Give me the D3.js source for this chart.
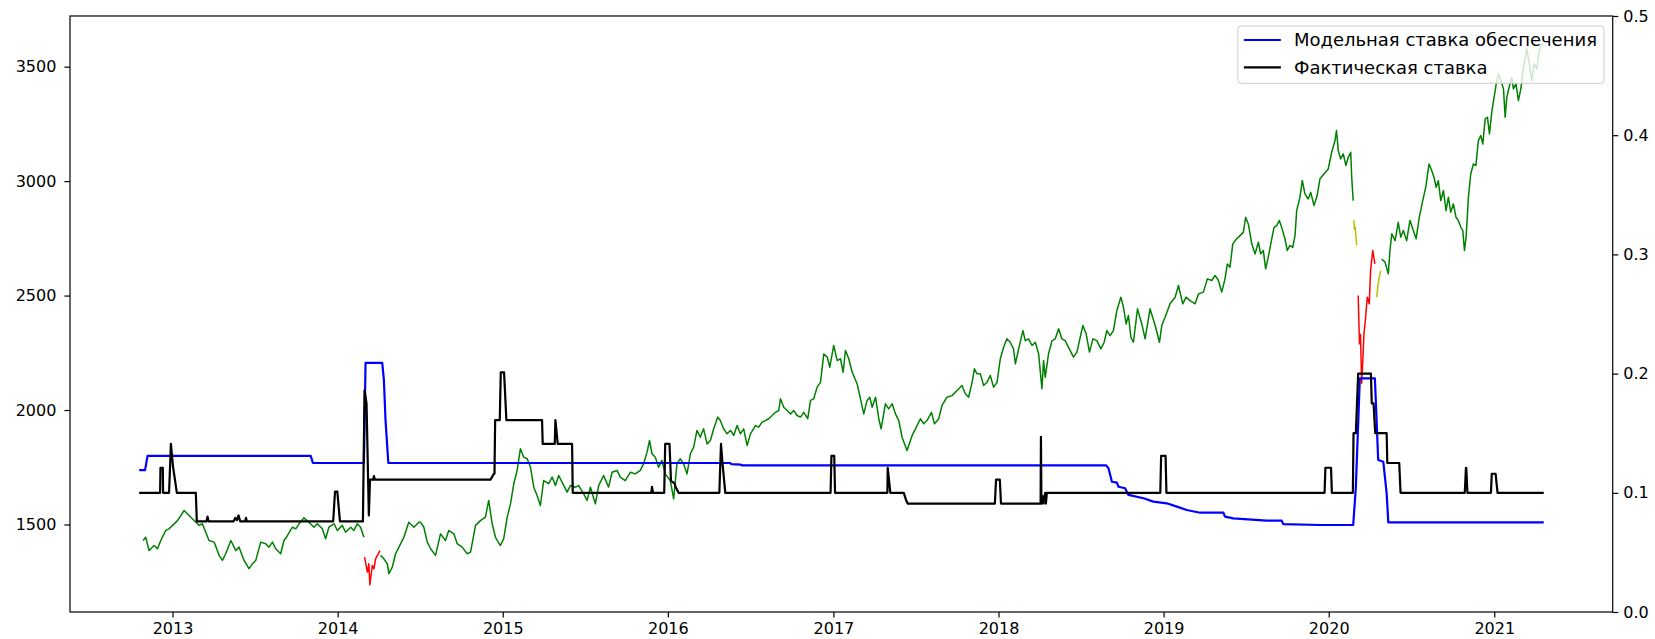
<!DOCTYPE html>
<html>
<head>
<meta charset="utf-8">
<script src="https://cdn.jsdelivr.net/npm/d3@7"></script>
<style>
  html, body { margin: 0; padding: 0; background: #fff; }
  svg { display: block; }
  text { font-family: "DejaVu Sans", sans-serif; fill: #000; }
</style>
</head>
<body>
<svg id="chart" width="1655" height="639"></svg>
<script>
// ---- Index level (left axis), decimal year + value, split by regime ----
const indexGreenA = [[2012.822,1430],[2012.838,1444],[2012.858,1386],[2012.889,1408],[2012.909,1394],[2012.929,1430],[2012.959,1474],[2012.979,1481],[2013.000,1496],[2013.030,1517],[2013.070,1561],[2013.100,1539],[2013.131,1517],[2013.161,1496],[2013.181,1503],[2013.201,1466],[2013.221,1430],[2013.252,1423],[2013.282,1365],[2013.302,1343],[2013.322,1372],[2013.353,1430],[2013.383,1386],[2013.403,1401],[2013.433,1343],[2013.463,1307],[2013.484,1328],[2013.504,1343],[2013.534,1423],[2013.564,1416],[2013.584,1401],[2013.605,1423],[2013.625,1394],[2013.655,1372],[2013.675,1430],[2013.696,1452],[2013.726,1488],[2013.746,1481],[2013.766,1503],[2013.796,1529],[2013.826,1510],[2013.857,1488],[2013.877,1503],[2013.907,1481],[2013.927,1438],[2013.947,1488],[2013.978,1503],[2013.998,1474],[2014.028,1496],[2014.048,1466],[2014.079,1488],[2014.099,1474],[2014.119,1503],[2014.139,1488],[2014.159,1444]];
const indexRedA = [[2014.163,1357],[2014.180,1292],[2014.189,1328],[2014.195,1236],[2014.210,1321],[2014.220,1306],[2014.230,1350],[2014.240,1364],[2014.256,1386]];
const indexGreenB = [[2014.260,1365],[2014.280,1350],[2014.301,1328],[2014.310,1285],[2014.331,1314],[2014.351,1372],[2014.371,1401],[2014.401,1444],[2014.431,1510],[2014.462,1488],[2014.492,1510],[2014.502,1510],[2014.522,1488],[2014.543,1423],[2014.563,1394],[2014.593,1365],[2014.623,1459],[2014.653,1430],[2014.673,1474],[2014.704,1459],[2014.724,1416],[2014.754,1401],[2014.785,1372],[2014.805,1379],[2014.835,1496],[2014.865,1517],[2014.895,1532],[2014.915,1605],[2014.936,1503],[2014.956,1444],[2014.986,1408],[2015.006,1438],[2015.027,1532],[2015.047,1590],[2015.067,1678],[2015.087,1736],[2015.107,1831],[2015.127,1794],[2015.148,1787],[2015.168,1750],[2015.188,1663],[2015.208,1627],[2015.228,1583],[2015.248,1692],[2015.278,1678],[2015.299,1707],[2015.319,1670],[2015.339,1714],[2015.359,1685],[2015.390,1641],[2015.410,1670],[2015.440,1663],[2015.460,1670],[2015.490,1634],[2015.511,1605],[2015.531,1663],[2015.561,1590],[2015.581,1670],[2015.611,1714],[2015.641,1663],[2015.662,1728],[2015.692,1736],[2015.712,1707],[2015.742,1692],[2015.773,1728],[2015.803,1721],[2015.833,1736],[2015.853,1765],[2015.874,1816],[2015.889,1867],[2015.904,1809],[2015.924,1794],[2015.944,1750],[2015.964,1780],[2015.984,1721],[2016.015,1692],[2016.035,1612],[2016.055,1765],[2016.075,1787],[2016.095,1765],[2016.116,1721],[2016.136,1809],[2016.156,1838],[2016.176,1911],[2016.196,1881],[2016.216,1918],[2016.237,1852],[2016.257,1867],[2016.277,1918],[2016.301,1969],[2016.317,1954],[2016.337,1918],[2016.358,1896],[2016.378,1911],[2016.398,1889],[2016.418,1932],[2016.438,1896],[2016.458,1918],[2016.479,1845],[2016.499,1896],[2016.529,1932],[2016.549,1925],[2016.569,1947],[2016.589,1954],[2016.609,1962],[2016.630,1976],[2016.650,1990],[2016.670,1998],[2016.680,2049],[2016.700,2012],[2016.721,1998],[2016.741,1983],[2016.760,1998],[2016.781,1976],[2016.801,1969],[2016.821,1990],[2016.845,1962],[2016.862,2042],[2016.881,2049],[2016.902,2100],[2016.922,2121],[2016.942,2245],[2016.963,2231],[2016.978,2187],[2017.002,2282],[2017.023,2216],[2017.043,2224],[2017.059,2165],[2017.073,2260],[2017.093,2224],[2017.114,2165],[2017.144,2114],[2017.164,2049],[2017.184,1983],[2017.204,2042],[2017.220,2056],[2017.235,2012],[2017.255,2056],[2017.275,1962],[2017.289,1918],[2017.315,2027],[2017.335,2005],[2017.356,2027],[2017.376,1983],[2017.396,1954],[2017.416,1881],[2017.446,1823],[2017.477,1889],[2017.497,1918],[2017.527,1962],[2017.547,1940],[2017.567,1954],[2017.594,1990],[2017.612,1940],[2017.638,1962],[2017.658,2020],[2017.688,2056],[2017.719,2063],[2017.749,2085],[2017.779,2107],[2017.799,2071],[2017.819,2056],[2017.840,2121],[2017.854,2180],[2017.870,2158],[2017.890,2158],[2017.910,2107],[2017.930,2121],[2017.950,2151],[2017.970,2100],[2017.991,2121],[2018.011,2224],[2018.031,2274],[2018.051,2311],[2018.071,2296],[2018.091,2267],[2018.102,2202],[2018.122,2267],[2018.148,2347],[2018.162,2303],[2018.182,2311],[2018.203,2282],[2018.223,2296],[2018.243,2245],[2018.263,2093],[2018.273,2216],[2018.283,2143],[2018.303,2245],[2018.324,2303],[2018.344,2311],[2018.364,2355],[2018.384,2311],[2018.404,2303],[2018.424,2274],[2018.454,2231],[2018.475,2253],[2018.495,2318],[2018.511,2369],[2018.531,2333],[2018.551,2253],[2018.572,2311],[2018.596,2303],[2018.620,2267],[2018.640,2296],[2018.656,2347],[2018.676,2325],[2018.696,2347],[2018.717,2435],[2018.741,2493],[2018.757,2449],[2018.773,2376],[2018.787,2413],[2018.802,2318],[2018.817,2296],[2018.842,2442],[2018.868,2376],[2018.888,2311],[2018.918,2442],[2018.949,2369],[2018.975,2296],[2018.989,2369],[2019.009,2405],[2019.039,2464],[2019.070,2493],[2019.090,2544],[2019.116,2464],[2019.136,2493],[2019.160,2478],[2019.191,2464],[2019.211,2507],[2019.241,2515],[2019.265,2573],[2019.292,2566],[2019.312,2588],[2019.332,2566],[2019.352,2515],[2019.372,2573],[2019.386,2638],[2019.402,2624],[2019.419,2726],[2019.443,2748],[2019.463,2762],[2019.483,2776],[2019.497,2842],[2019.513,2813],[2019.534,2726],[2019.554,2682],[2019.574,2733],[2019.588,2682],[2019.604,2697],[2019.618,2617],[2019.634,2668],[2019.655,2748],[2019.669,2798],[2019.685,2806],[2019.701,2828],[2019.715,2798],[2019.735,2748],[2019.749,2697],[2019.765,2719],[2019.782,2711],[2019.796,2762],[2019.806,2871],[2019.826,2930],[2019.840,3003],[2019.856,2944],[2019.876,2922],[2019.891,2951],[2019.911,2893],[2019.930,2937],[2019.947,3010],[2019.971,3031],[2019.997,3053],[2020.018,3126],[2020.038,3177],[2020.047,3221],[2020.058,3133],[2020.072,3097],[2020.088,3119],[2020.104,3068],[2020.118,3104],[2020.133,3126],[2020.139,3017],[2020.148,2915]];
const indexYellowA = [[2020.152,2830],[2020.155,2790],[2020.160,2800],[2020.169,2719]];
const indexRedB = [[2020.178,2500],[2020.186,2289],[2020.192,2330],[2020.199,2117],[2020.205,2200],[2020.213,2333],[2020.223,2405],[2020.233,2493],[2020.245,2464],[2020.253,2609],[2020.266,2697],[2020.279,2638]];
const indexYellowB = [[2020.290,2493],[2020.299,2551],[2020.310,2595],[2020.314,2609]];
const indexGreenC = [[2020.320,2660],[2020.340,2646],[2020.360,2595],[2020.370,2697],[2020.381,2770],[2020.401,2740],[2020.420,2820],[2020.435,2755],[2020.451,2784],[2020.471,2740],[2020.491,2828],[2020.511,2784],[2020.528,2748],[2020.547,2842],[2020.568,2915],[2020.586,2973],[2020.606,3075],[2020.622,3046],[2020.636,3017],[2020.649,2973],[2020.662,3002],[2020.677,2915],[2020.693,2959],[2020.709,2871],[2020.723,2930],[2020.737,2864],[2020.753,2900],[2020.769,2842],[2020.783,2828],[2020.798,2798],[2020.810,2784],[2020.820,2697],[2020.830,2755],[2020.844,2930],[2020.858,3031],[2020.874,3075],[2020.889,3068],[2020.904,3177],[2020.919,3199],[2020.931,3162],[2020.945,3272],[2020.959,3279],[2020.971,3206],[2020.986,3308],[2020.999,3366],[2021.012,3425],[2021.025,3468],[2021.040,3439],[2021.056,3403],[2021.066,3279],[2021.076,3366],[2021.090,3410],[2021.106,3454],[2021.116,3403],[2021.132,3425],[2021.146,3352],[2021.161,3403],[2021.177,3497],[2021.197,3577],[2021.213,3512],[2021.227,3439],[2021.241,3512],[2021.258,3490],[2021.273,3570],[2021.288,3599],[2021.293,3603]];

// ---- Rates (right axis) ----
const modelRate = [[2012.805,0.119],[2012.834,0.119],[2012.849,0.131],[2013.837,0.131],[2013.850,0.125],[2014.159,0.125],[2014.169,0.209],[2014.270,0.209],[2014.280,0.195],[2014.290,0.161],[2014.307,0.125],[2016.375,0.125],[2016.385,0.124],[2016.440,0.1236],[2016.450,0.123],[2018.652,0.123],[2018.666,0.1206],[2018.687,0.1093],[2018.717,0.1085],[2018.727,0.1051],[2018.767,0.1038],[2018.787,0.0982],[2018.878,0.0954],[2018.938,0.0926],[2019.019,0.0912],[2019.080,0.0884],[2019.140,0.0856],[2019.221,0.0833],[2019.362,0.0833],[2019.372,0.080],[2019.422,0.0786],[2019.624,0.0766],[2019.715,0.0766],[2019.725,0.0738],[2019.947,0.073],[2020.148,0.073],[2020.164,0.105],[2020.188,0.196],[2020.279,0.196],[2020.299,0.1275],[2020.330,0.126],[2020.350,0.0996],[2020.360,0.0752],[2021.293,0.0752]];
const actualRate = [[2012.805,0.100],[2012.925,0.100],[2012.927,0.121],[2012.941,0.121],[2012.943,0.100],[2012.979,0.100],[2012.990,0.141],[2013.003,0.122],[2013.026,0.100],[2013.141,0.100],[2013.147,0.076],[2013.205,0.076],[2013.212,0.080],[2013.219,0.076],[2013.370,0.076],[2013.380,0.079],[2013.390,0.077],[2013.400,0.081],[2013.410,0.076],[2013.440,0.076],[2013.445,0.079],[2013.450,0.076],[2013.973,0.076],[2013.984,0.101],[2013.998,0.101],[2014.014,0.076],[2014.153,0.076],[2014.163,0.186],[2014.175,0.175],[2014.189,0.081],[2014.196,0.111],[2014.215,0.111],[2014.220,0.114],[2014.225,0.111],[2014.926,0.111],[2014.946,0.116],[2014.950,0.116],[2014.954,0.161],[2014.982,0.161],[2014.988,0.201],[2015.008,0.201],[2015.022,0.161],[2015.238,0.161],[2015.242,0.141],[2015.315,0.141],[2015.319,0.161],[2015.333,0.141],[2015.420,0.141],[2015.424,0.100],[2015.900,0.100],[2015.904,0.105],[2015.910,0.100],[2015.978,0.100],[2015.984,0.141],[2016.010,0.141],[2016.019,0.110],[2016.040,0.108],[2016.050,0.104],[2016.065,0.100],[2016.311,0.100],[2016.321,0.141],[2016.330,0.125],[2016.347,0.100],[2016.983,0.100],[2016.988,0.131],[2017.005,0.131],[2017.010,0.100],[2017.327,0.100],[2017.329,0.121],[2017.345,0.100],[2017.426,0.100],[2017.440,0.094],[2017.450,0.091],[2017.978,0.091],[2017.985,0.111],[2018.008,0.111],[2018.015,0.091],[2018.255,0.091],[2018.257,0.147],[2018.260,0.091],[2018.268,0.097],[2018.272,0.091],[2018.283,0.100],[2018.287,0.091],[2018.293,0.100],[2018.980,0.100],[2018.985,0.131],[2019.012,0.131],[2019.017,0.100],[2019.975,0.100],[2019.980,0.121],[2020.014,0.121],[2020.019,0.100],[2020.146,0.100],[2020.150,0.150],[2020.164,0.150],[2020.178,0.200],[2020.255,0.200],[2020.260,0.175],[2020.271,0.175],[2020.281,0.150],[2020.350,0.150],[2020.354,0.125],[2020.426,0.125],[2020.434,0.100],[2020.822,0.100],[2020.829,0.121],[2020.831,0.121],[2020.838,0.100],[2020.980,0.100],[2020.985,0.116],[2021.008,0.116],[2021.020,0.100],[2021.293,0.100]];

// ---- Axis ticks and legend labels ----
const leftTicks = [1500, 2000, 2500, 3000, 3500];
const rightTicks = [0.0, 0.1, 0.2, 0.3, 0.4, 0.5];
const rateLabels = ["Модельная ставка обеспечения", "Фактическая ставка"];

// decimal year -> UTC Date
function toDate(t) {
  const y = Math.floor(t);
  const a = Date.UTC(y, 0, 1), b = Date.UTC(y + 1, 0, 1);
  return new Date(a + (t - y) * (b - a));
}

const svg = d3.select("#chart");
const W = 1655, H = 639;
const m = { left: 70, top: 16, right: W - 1612.7, bottom: H - 612 };
const iw = W - m.left - m.right, ih = H - m.top - m.bottom;

svg.append("rect").attr("width", W).attr("height", H).attr("fill", "#fff");

const indexSegments = [
  { data: indexGreenA, color: "#008000" },
  { data: indexRedA, color: "#ff0000" },
  { data: indexGreenB, color: "#008000" },
  { data: indexYellowA, color: "#bfbf00" },
  { data: indexRedB, color: "#ff0000" },
  { data: indexYellowB, color: "#bfbf00" },
  { data: indexGreenC, color: "#008000" }
];

// autoscaled limits with a 5% margin on each side
function padded(ext) {
  const d = (ext[1] - ext[0]) * 0.05;
  return [ext[0] - d, ext[1] + d];
}
const allT = [].concat(...indexSegments.map(s => s.data), modelRate, actualRate).map(d => d[0]);
const tExt = padded(d3.extent(allT));
const vExt = padded(d3.extent([].concat(...indexSegments.map(s => s.data)), d => d[1]));

const x = d3.scaleUtc().domain([toDate(tExt[0]), toDate(tExt[1])]).range([0, iw]);
const yL = d3.scaleLinear().domain(vExt).range([ih, 0]);
const yR = d3.scaleLinear().domain([0, 0.5]).range([ih, 0]);

const g = svg.append("g").attr("transform", `translate(${m.left},${m.top})`);

const clip = svg.append("defs").append("clipPath").attr("id", "plotClip");
clip.append("rect").attr("width", iw).attr("height", ih);

const plot = g.append("g").attr("clip-path", "url(#plotClip)");

const lineL = d3.line().x(d => x(toDate(d[0]))).y(d => yL(d[1]));
const lineR = d3.line().x(d => x(toDate(d[0]))).y(d => yR(d[1]));

// index line, coloured by regime
plot.selectAll("path.idx").data(indexSegments).join("path")
  .attr("class", "idx")
  .attr("d", s => lineL(s.data))
  .attr("fill", "none")
  .attr("stroke", s => s.color)
  .attr("stroke-width", 1.5)
  .attr("stroke-linejoin", "round");

// rate lines
const rateSeries = [
  { data: modelRate, color: "#0000ff", label: rateLabels[0] },
  { data: actualRate, color: "#000000", label: rateLabels[1] }
];
plot.selectAll("path.rate").data(rateSeries).join("path")
  .attr("class", "rate")
  .attr("d", s => lineR(s.data))
  .attr("fill", "none")
  .attr("stroke", s => s.color)
  .attr("stroke-width", 2.2)
  .attr("stroke-linejoin", "round")
  .attr("stroke-linecap", "square");

// axes
const fs = 16;
const axB = d3.axisBottom(x).ticks(d3.utcYear.every(1)).tickFormat(d3.utcFormat("%Y")).tickSize(5.6).tickPadding(5);
const axL = d3.axisLeft(yL).tickValues(leftTicks).tickFormat(d3.format("d")).tickSize(5.6).tickPadding(8);
const axR = d3.axisRight(yR).tickValues(rightTicks).tickFormat(d3.format(".1f")).tickSize(5.6).tickPadding(5);

function styleAxis(sel) {
  sel.select(".domain").remove();
  sel.selectAll(".tick line").attr("stroke", "#000").attr("stroke-width", 1.2);
  sel.selectAll(".tick text").attr("font-size", fs).attr("font-family", "DejaVu Sans").attr("fill", "#000");
}
g.append("g").attr("transform", `translate(0,${ih})`).call(axB).call(styleAxis);
g.append("g").call(axL).call(styleAxis);
g.append("g").attr("transform", `translate(${iw},0)`).call(axR).call(styleAxis);

// frame
g.append("rect").attr("width", iw).attr("height", ih)
  .attr("fill", "none").attr("stroke", "#000").attr("stroke-width", 1.2);

// legend (upper right)
const leg = g.append("g");
const legFs = 18, row0 = 14, rowH = 27.3, handleLen = 37, pad = 6, gap = 13;
const texts = [];
rateSeries.forEach((s, i) => {
  const t = leg.append("text")
    .attr("x", pad + handleLen + gap)
    .attr("y", row0 + i * rowH)
    .attr("dy", "0.35em")
    .attr("font-size", legFs)
    .text(s.label);
  texts.push(t);
});
const tw = d3.max(texts, t => t.node().getComputedTextLength());
const boxW = pad + handleLen + gap + tw + 7;
const boxH = 57.3;
leg.insert("rect", ":first-child")
  .attr("x", 0).attr("y", 0).attr("width", boxW).attr("height", boxH)
  .attr("rx", 3).attr("ry", 3)
  .attr("fill", "#fff").attr("fill-opacity", 0.8)
  .attr("stroke", "#cccccc").attr("stroke-width", 1);
rateSeries.forEach((s, i) => {
  leg.append("line")
    .attr("x1", pad).attr("x2", pad + handleLen)
    .attr("y1", row0 + i * rowH).attr("y2", row0 + i * rowH)
    .attr("stroke", s.color).attr("stroke-width", 2.2);
});
leg.attr("transform", `translate(${iw - 8.7 - boxW},${10})`);
</script>
</body>
</html>
